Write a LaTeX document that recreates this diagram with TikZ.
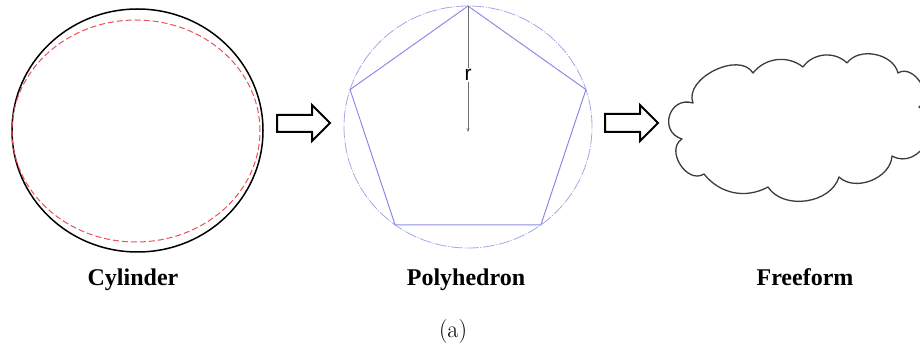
\documentclass[tikz,border=0pt]{standalone}
\usepackage{fontspec}
\newfontfamily\timesf{Liberation Serif}
\newfontfamily\arialf{Liberation Sans}
\usetikzlibrary{arrows.meta,calc}
\definecolor{polyblue}{RGB}{140,140,230}
\definecolor{circblue}{RGB}{165,165,235}
\definecolor{cylred}{RGB}{235,80,90}
\definecolor{cloudgray}{RGB}{60,60,60}
\definecolor{rgray}{RGB}{110,110,110}
\tikzset{
  cylblack/.style={draw=black, line width=1.5pt},
  cylreddash/.style={draw=cylred, line width=1pt, dash pattern=on 6pt off 3pt},
  blockarrow/.style={draw=black, line width=2pt, fill=white, line join=miter},
  polyline/.style={draw=polyblue, line width=1pt},
  polycirc/.style={draw=circblue, line width=0.8pt, dash pattern=on 12pt off 1.5pt on 1pt off 1.5pt},
  rline/.style={draw=rgray, line width=0.7pt, -{Stealth[length=4pt,width=3pt]}},
  cloudline/.style={draw=cloudgray, line width=1.3pt, line join=round},
  caption/.style={font=\timesf\bfseries\fontsize{24}{28}\selectfont, anchor=base},
}
\begin{document}
\begin{tikzpicture}[x=1pt,y=-1pt]
\useasboundingbox (0,0) rectangle (920,352);
% Cylinder
\coordinate (cylc) at (137.5,130.5);
\draw[cylblack] (cylc) ellipse [x radius=125.5pt, y radius=121.5pt];
\draw[cylreddash] (136,131) ellipse [x radius=124pt, y radius=111pt];
% Arrow 1
\draw[blockarrow] (277,115) -- (312,115) -- (312,105) -- (330,123) -- (312,141) -- (312,132) -- (277,132) -- cycle;
% Polyhedron
\coordinate (O) at (468,127);
\draw[polycirc] (O) ellipse [x radius=124pt, y radius=121pt];
\foreach \i/\a in {1/90,2/18,3/-54,4/-126,5/162}{
  \coordinate (P\i) at ($(O)+({124*cos(\a)},{-121*sin(\a)})$);
}
\draw[polyline] (P1) -- (P2) -- (P3) -- (P4) -- (P5) -- cycle;
\coordinate (rend) at (468,132);
\draw[rline] (P1) -- node[pos=0.55, fill=white, inner sep=1.5pt, text=black, font=\arialf\fontsize{21}{23}\selectfont] (rlab) {r} (rend);
% Arrow 2
\draw[blockarrow] (605,114) -- (640,114) -- (640,105) -- (658,123) -- (640,141) -- (640,132) -- (605,132) -- cycle;
% Cloud
\coordinate (A) at (693,103);
\coordinate (B) at (682,139);
\coordinate (C) at (704,174);
\coordinate (D) at (768,187);
\coordinate (E) at (839,177);
\coordinate (F) at (892,156);
\coordinate (G) at (919,107);
\coordinate (H) at (898,73);
\coordinate (I) at (847,63);
\coordinate (J) at (803,67);
\coordinate (K) at (753,73);
\begin{scope}
\clip (0,0) rectangle (920,352);
\draw[cloudline, fill=white] (A)
  to[bend right=90, looseness=1.7] (B)
  to[bend right=90, looseness=1.25] (C)
  to[bend right=40] (D)
  to[bend right=65] (E)
  to[bend right=65] (F)
  to[bend right=90, looseness=1.45] (G)
  to[bend right=90, looseness=1.2] (H)
  to[bend right=65] (I)
  to[bend right=50] (J)
  to[bend right=45] (K)
  to[bend right=85] (A) -- cycle;
\end{scope}
% Captions
\node[caption] (cap1) at (133,286) {Cylinder};
\node[caption] (cap2) at (466,286) {Polyhedron};
\node[caption] (cap3) at (805,286) {Freeform};
\node[anchor=base, font=\fontsize{24}{28}\selectfont] (capa) at (453,337) {(a)};
\end{tikzpicture}
\end{document}
